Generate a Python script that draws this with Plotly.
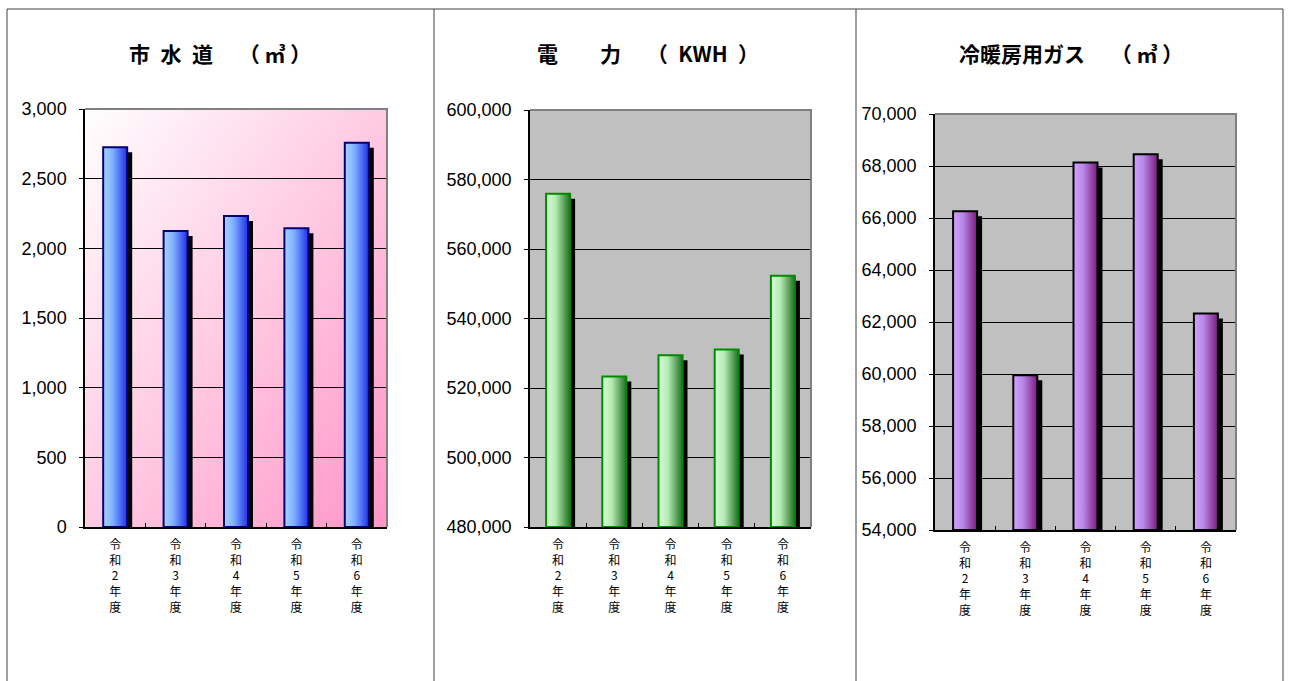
import base64
import struct
import zlib

import numpy as np
import plotly.graph_objects as go

# ---- data -------------------------------------------------------------
years = ["令<br>和<br>2<br>年<br>度", "令<br>和<br>3<br>年<br>度", "令<br>和<br>4<br>年<br>度",
         "令<br>和<br>5<br>年<br>度", "令<br>和<br>6<br>年<br>度"]

water = [2725, 2124, 2232, 2144, 2758]                      # 市水道 (㎥)
power = [575900, 523300, 529400, 531100, 552300]            # 電力 (KWH)
gas = [66260, 59950, 68130, 68450, 62330]                   # 冷暖房用ガス (㎥)

titles = ["市\u2002水\u2002道\u3000 （ ㎥ ）",
          "電\u3000\u3000力\u3000 （\u2002KWH\u2002）",
          "冷暖房用ガス\u3000 （ ㎥ ）"]

W, H = 1290, 681

# ---- panel geometry (pixels) -----------------------------------------
panels = [
    dict(vals=water, rng=(0, 3000), dtick=500, px=(85, 387), py=(109, 527),
         light="#a8d4ff", mid="#7fb0ff", dark="#1f2fe8", edge="#00007a", bg=None, cx=220),
    dict(vals=power, rng=(480000, 600000), dtick=20000, px=(530, 811), py=(110, 527),
         light="#d4ffd4", mid="#b4eab4", dark="#1f6f1f", edge="#008a00", bg="#c0c0c0", cx=648),
    dict(vals=gas, rng=(54000, 70000), dtick=2000, px=(935, 1236), py=(114, 530),
         light="#d4a0ff", mid="#b888e8", dark="#7a1a7a", edge="#000000", bg="#c0c0c0", cx=1071),
]


def png_uri(arr):
    h, w, _ = arr.shape
    raw = b"".join(b"\x00" + arr[r].tobytes() for r in range(h))

    def chunk(tag, data):
        return (struct.pack(">I", len(data)) + tag + data
                + struct.pack(">I", zlib.crc32(tag + data) & 0xFFFFFFFF))

    png = (b"\x89PNG\r\n\x1a\n"
           + chunk(b"IHDR", struct.pack(">IIBBBBB", w, h, 8, 2, 0, 0, 0))
           + chunk(b"IDAT", zlib.compress(raw, 9))
           + chunk(b"IEND", b""))
    return "data:image/png;base64," + base64.b64encode(png).decode()


# diagonal white -> pink fill for the water chart's plot area
gw, gh = 151, 209
gx = np.linspace(0, 1, gw)[None, :]
gy = np.linspace(0, 1, gh)[:, None]
t = (gx + gy) / 2.0
c0 = np.array([255, 255, 255], float)
c1 = np.array([255, 150, 200], float)
grad = (c0[None, None, :] * (1 - t[..., None]) + c1[None, None, :] * t[..., None])
grad_uri = png_uri(np.clip(grad, 0, 255).astype(np.uint8))

fig = go.Figure()
shapes, annotations, images = [], [], []
layout = dict(
    width=W, height=H, margin=dict(l=0, r=0, t=0, b=0, pad=0, autoexpand=False),
    paper_bgcolor="white", plot_bgcolor="rgba(0,0,0,0)",
    showlegend=False,
)

for k, p in enumerate(panels):
    n = k + 1
    xa = "x" if n == 1 else f"x{n}"
    ya = "y" if n == 1 else f"y{n}"
    xkey = "xaxis" if n == 1 else f"xaxis{n}"
    ykey = "yaxis" if n == 1 else f"yaxis{n}"
    x0, x1 = p["px"]
    y0, y1 = p["py"]
    lo, hi = p["rng"]

    layout[xkey] = dict(
        domain=[x0 / W, x1 / W], anchor=ya, range=[-0.5, 4.5],
        tickmode="array", tickvals=list(range(5)), ticktext=years,
        ticks="", ticklabelstandoff=6, showgrid=False, zeroline=False,
        showline=True, linecolor="black", linewidth=1.5, automargin=False,
        tickfont=dict(family="Noto Sans CJK JP", size=12, color="black"),
        minor=dict(tickmode="array", tickvals=[0.5, 1.5, 2.5, 3.5], ticks="inside",
                   ticklen=4, tickcolor="black", tickwidth=1, showgrid=False),
        fixedrange=True,
    )
    layout[ykey] = dict(
        domain=[1 - y1 / H, 1 - y0 / H], anchor=xa, range=[lo, hi],
        tickmode="linear", tick0=lo, dtick=p["dtick"], tickformat=",",
        ticks="outside", ticklen=4, tickcolor="black", ticklabelstandoff=9,
        showgrid=True, gridcolor="black", gridwidth=1, zeroline=False,
        showline=True, linecolor="black", linewidth=1.5, automargin=False,
        tickfont=dict(family="Liberation Sans", size=18, color="black"),
        fixedrange=True,
    )

    # plot-area fill
    if p["bg"] is None:
        images.append(dict(
            source=grad_uri, xref="paper", yref="paper",
            x=x0 / W, y=1 - y0 / H, sizex=(x1 - x0) / W, sizey=(y1 - y0) / H,
            xanchor="left", yanchor="top", sizing="stretch", layer="below"))
    else:
        shapes.append(dict(
            type="rect", xref="paper", yref="paper",
            x0=x0 / W, x1=x1 / W, y0=1 - y1 / H, y1=1 - y0 / H,
            fillcolor=p["bg"], line=dict(width=0), layer="below"))
    # grey frame on the top and right edges of the plot area
    shapes.append(dict(
        type="path", xref="paper", yref="paper",
        path=f"M {x0 / W} {1 - y0 / H} L {x1 / W} {1 - y0 / H} L {x1 / W} {1 - y1 / H}",
        line=dict(color="#808080", width=2), layer="above"))

    # bar geometry in data units
    cat_px = (x1 - x0) / 5.0
    unit_px = (y1 - y0) / (hi - lo)
    half = 12.0 / cat_px
    sdx = 5.0 / cat_px
    sdy = 5.0 / unit_px

    for i, v in enumerate(p["vals"]):
        l, r = i - half, i + half
        # drop shadow
        fig.add_trace(go.Scatter(
            x=[l + sdx, l + sdx, r + sdx, r + sdx, l + sdx],
            y=[lo, v - sdy, v - sdy, lo, lo],
            xaxis=xa, yaxis=ya, mode="lines", fill="toself",
            fillcolor="black", line=dict(width=0), hoverinfo="skip"))
        # bar body with left-to-right shading
        fig.add_trace(go.Scatter(
            x=[l, l, r, r, l], y=[lo, v, v, lo, lo],
            xaxis=xa, yaxis=ya, mode="lines", fill="toself",
            fillgradient=dict(type="horizontal",
                              colorscale=[[0, p["light"]], [0.4, p["mid"]], [1, p["dark"]]]),
            line=dict(color=p["edge"], width=2),
            hovertemplate="%{y:,}<extra></extra>"))

    annotations.append(dict(
        text=titles[k], xref="paper", yref="paper", x=p["cx"] / W, y=1 - 53 / H,
        xanchor="center", yanchor="middle", showarrow=False,
        font=dict(family="Noto Sans CJK JP", size=21, color="black", weight="bold")))

# outer frame and dividers
frame_col = "#404040"
shapes.append(dict(type="line", xref="paper", yref="paper",
                   x0=7 / W, x1=1283 / W, y0=1 - 9 / H, y1=1 - 9 / H,
                   line=dict(color=frame_col, width=1)))
for xv in (7, 434, 856, 1283):
    shapes.append(dict(type="line", xref="paper", yref="paper",
                       x0=xv / W, x1=xv / W, y0=0, y1=1 - 9 / H,
                       line=dict(color=frame_col, width=1)))

layout["shapes"] = shapes
layout["annotations"] = annotations
layout["images"] = images
fig.update_layout(**layout)
fig.write_html("out.html", config=dict(displayModeBar=False))
